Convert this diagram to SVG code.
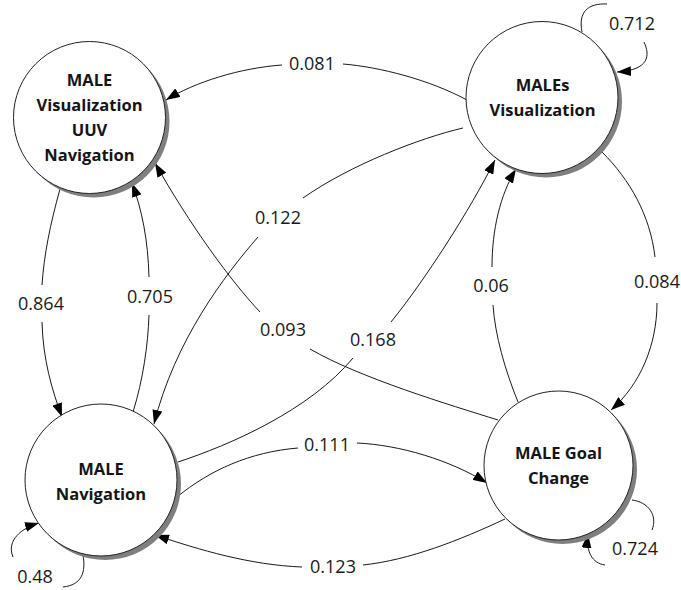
<svg xmlns="http://www.w3.org/2000/svg" width="681" height="590" viewBox="0 0 681 590">
<style>
.shadow{fill:#7f7f7f;stroke:none}
.node{fill:#ffffff;stroke:#222222;stroke-width:1}
.nt{font-family:"Open Sans","Liberation Sans",sans-serif;font-weight:bold;font-size:16.5px;fill:#151515;text-anchor:middle}
.lbl{font-family:"Open Sans","Liberation Sans",sans-serif;font-size:18px;fill:#1a1a1a;text-anchor:middle}
.edge{fill:none;stroke:#1a1a1a;stroke-width:1;marker-end:url(#arr)}
</style>
<defs>
<marker id="arr" viewBox="0 0 14 10" refX="14" refY="5" markerWidth="14" markerHeight="10" markerUnits="userSpaceOnUse" orient="auto">
<path d="M0,0 L14,5 L0,10 z" fill="#000000"/>
</marker>
</defs>
<rect width="681" height="590" fill="#ffffff"/>

<g id="connectors">
<path class="edge" d="M467,100 C430,80 380,67 343,64 M282,65 C240,68 195,82 166,100"/>
<path class="edge" d="M582,32 C578,12 588,3 607,4 M644,42 C650,55 650,70 617,72"/>
<path class="edge" d="M60,189 C50,225 44,255 42,285 M42,322 C43,360 52,390 62,417"/>
<path class="edge" d="M133,412 C143,380 148,345 149,315 M149,277 C148,240 142,210 132,183"/>
<path class="edge" d="M463,128 C420,138 350,165 303,198 M258,237 C225,275 175,340 154,424"/>
<path class="edge" d="M498,420 C450,405 360,378 310,349 M260,312 C230,280 190,225 155,163"/>
<path class="edge" d="M178,462 C230,445 310,410 353,358 M391,322 C425,280 470,210 495,160"/>
<path class="edge" d="M518,402 C505,370 495,335 493,305 M492,267 C492,230 500,195 516,169"/>
<path class="edge" d="M602,152 C630,180 650,215 655,257 M657,303 C657,345 640,385 611,410"/>
<path class="edge" d="M177,497 C210,470 250,452 298,448 M357,443 C400,445 450,460 487,483"/>
<path class="edge" d="M505,519 C460,540 410,560 363,565 M302,567 C250,565 200,550 155,535"/>
<path class="edge" d="M83,555 C86,572 82,585 63,587 M13,557 C6,540 22,528 39,523"/>
<path class="edge" d="M632,500 C648,502 658,515 652,530 M605,565 C592,563 586,552 588,534"/>
<text class="lbl" x="312" y="70">0.081</text>
<text class="lbl" x="632" y="30">0.712</text>
<text class="lbl" x="41" y="309.5">0.864</text>
<text class="lbl" x="150" y="303">0.705</text>
<text class="lbl" x="278" y="224">0.122</text>
<text class="lbl" x="283" y="336">0.093</text>
<text class="lbl" x="373" y="346">0.168</text>
<text class="lbl" x="491" y="291.5">0.06</text>
<text class="lbl" x="657" y="287.5">0.084</text>
<text class="lbl" x="327" y="450.5">0.111</text>
<text class="lbl" x="333" y="573">0.123</text>
<text class="lbl" x="35" y="582.5">0.48</text>
<text class="lbl" x="635" y="555">0.724</text>
</g>

<g id="node-male-vis-uuv-nav">
<circle class="shadow" cx="93.5" cy="121.5" r="76"/>
<circle class="node" cx="89.5" cy="117.5" r="76"/>
<text class="nt" x="89.5" y="86">MALE</text>
<text class="nt" x="89.5" y="111">Visualization</text>
<text class="nt" x="89.5" y="136">UUV</text>
<text class="nt" x="89.5" y="161">Navigation</text>
</g>

<g id="node-males-vis">
<circle class="shadow" cx="546" cy="101.5" r="76"/>
<circle class="node" cx="542" cy="97.5" r="76"/>
<text class="nt" x="542.5" y="91">MALEs</text>
<text class="nt" x="542.5" y="116">Visualization</text>
</g>

<g id="node-male-nav">
<circle class="shadow" cx="105" cy="484" r="76"/>
<circle class="node" cx="101" cy="480" r="76"/>
<text class="nt" x="101" y="475">MALE</text>
<text class="nt" x="101" y="499.5">Navigation</text>
</g>

<g id="node-male-goal">
<circle class="shadow" cx="562.5" cy="469.5" r="74.5"/>
<circle class="node" cx="558.5" cy="465.5" r="74.5"/>
<text class="nt" x="558.5" y="458.5">MALE Goal</text>
<text class="nt" x="558.5" y="483.5">Change</text>
</g>
</svg>
